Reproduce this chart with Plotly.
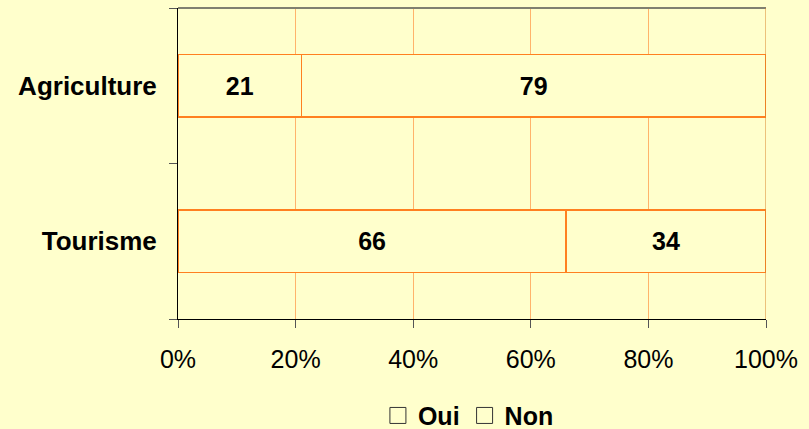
import plotly.graph_objects as go

categories = ["Tourisme", "Agriculture"]
oui = [66, 21]
non = [34, 79]
series_names = ["Oui", "Non"]
x_ticks = [0, 20, 40, 60, 80, 100]

BG = "#FFFFCC"
BAR_LINE = "#FF8020"
GRID = "#FFB36B"
FONT = "Arial, Liberation Sans, sans-serif"

fig = go.Figure()
for name, vals in zip(series_names, [oui, non]):
    fig.add_trace(go.Bar(
        y=categories, x=vals, orientation="h", name=name,
        marker=dict(color=BG, line=dict(color=BAR_LINE, width=1.5)),
        width=0.4,
        text=[str(v) for v in vals], textposition="inside",
        insidetextanchor="middle", textangle=0,
        textfont=dict(family=FONT, size=25, color="black", weight="bold"),
        showlegend=False, hoverinfo="skip",
    ))
for name in series_names:
    fig.add_trace(go.Scatter(
        x=[None], y=[None], mode="markers", name=name,
        marker=dict(symbol="square", size=17, color=BG,
                    line=dict(color="#333333", width=1)),
        showlegend=True,
    ))

fig.update_layout(
    width=809, height=429,
    margin=dict(l=178, r=43, t=8, b=110),
    paper_bgcolor=BG, plot_bgcolor=BG,
    barmode="stack",
    font=dict(family=FONT, size=25, color="black"),
    legend=dict(orientation="h", xref="container", yref="container",
                x=0.579, xanchor="center", y=0.031, yanchor="middle",
                traceorder="normal",
                font=dict(family=FONT, size=25, weight="bold"),
                itemwidth=30, tracegroupgap=0,
                bgcolor="rgba(0,0,0,0)"),
    xaxis=dict(range=[0, 100], tickvals=x_ticks,
               ticktext=[f"{v}%" for v in x_ticks],
               showgrid=True, gridcolor=GRID, gridwidth=1,
               showline=True, linecolor="black", linewidth=1,
               ticks="outside", ticklen=8, tickcolor="#555555",
               tickfont=dict(family=FONT, size=25), zeroline=False,
               ticklabelstandoff=10, fixedrange=True),
    yaxis=dict(categoryorder="array", categoryarray=categories,
               range=[-0.5, 1.5], tickson="boundaries",
               ticks="outside", ticklen=8, tickcolor="#555555",
               showline=True, linecolor="black", linewidth=1,
               showgrid=False,
               tickfont=dict(family=FONT, size=26, weight="bold"),
               ticklabelstandoff=15, fixedrange=True),
    shapes=[
        dict(type="line", xref="paper", yref="paper", x0=0, x1=1,
             y0=1, y1=1, line=dict(color="#808070", width=2)),
        dict(type="line", xref="x", yref="paper", x0=100, x1=100,
             y0=0, y1=1, line=dict(color="#D9822B", width=1)),
    ],
)

fig.write_html(
    "out.html",
    config={"displayModeBar": False},
    post_script="document.body.style.margin='0';"
                "document.body.style.background='#FFFFCC';",
)
